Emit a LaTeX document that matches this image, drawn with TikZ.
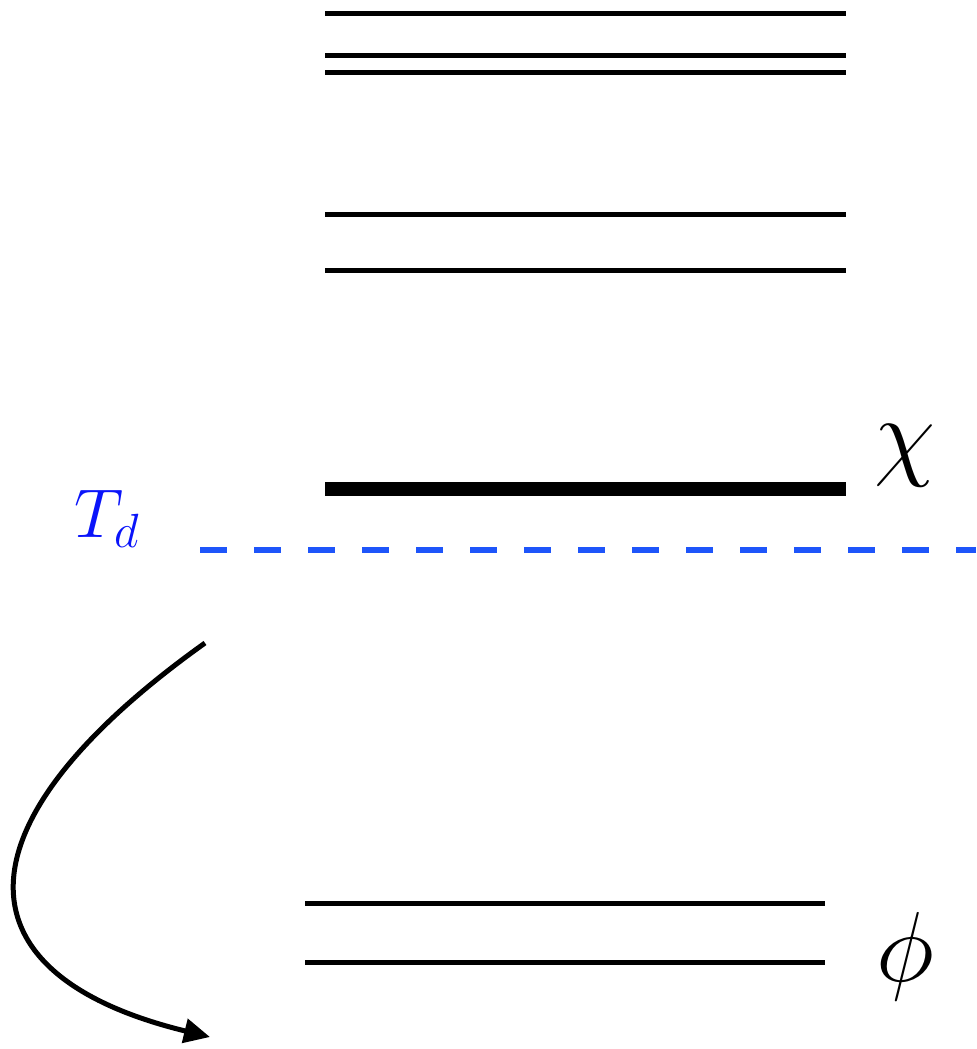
\documentclass[tikz,border=0pt]{standalone}
\usetikzlibrary{arrows.meta}
\definecolor{tdblue}{RGB}{10,20,250}
\definecolor{dashblue}{RGB}{30,85,250}
\begin{document}
\begin{tikzpicture}[x=0.25pt,y=-0.25pt,
  level/.style={line width=1.25pt},
  ground/.style={line width=3.5pt},
  border/.style={dashblue,line width=1.5pt,dash pattern=on 6.75pt off 6.75pt},
  biglabel/.style={inner sep=0pt,anchor=base,font=\fontsize{23}{28}\selectfont},
  tdlabel/.style={inner sep=0pt,anchor=base,text=tdblue,font=\fontsize{18}{21}\selectfont},
  flow/.style={line width=1.25pt,-{Triangle[length=6.5pt,width=6pt]}}]
\useasboundingbox (0,0) rectangle (976,1049);
% upper levels
\draw[level] (325,13) -- (846,13);
\draw[level] (325,55) -- (846,55);
\draw[level] (325,72) -- (846,72);
\draw[level] (325,214) -- (846,214);
\draw[level] (325,270) -- (846,270);
% chi level
\draw[ground] (325,489) -- (846,489);
\node[biglabel] (chi) at (905,467) {$\chi$};
% decoupling temperature
\draw[border] (200,550) -- (976,550);
\node[tdlabel] (td) at (108,537) {$T_d$};
% phi levels
\draw[level] (305,903) -- (825,903);
\draw[level] (305,962) -- (825,962);
\node[biglabel] (phi) at (905,981) {$\phi$};
% arrow
\coordinate (s) at (205,643);
\coordinate (e) at (210,1037);
\draw[flow] (s) .. controls (-50,825) and (-45,975) .. (e);
\end{tikzpicture}
\end{document}
